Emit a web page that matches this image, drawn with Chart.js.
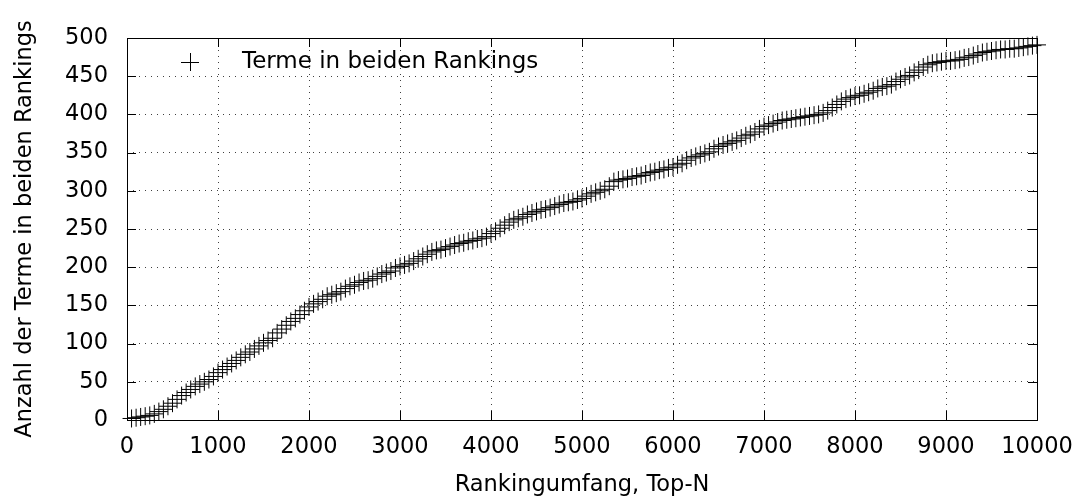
<!DOCTYPE html>
<html>
<head>
<meta charset="utf-8">
<script src="https://cdn.jsdelivr.net/npm/chart.js@4/dist/chart.umd.min.js"></script>
<style>
  html, body { margin: 0; padding: 0; background: #fff; }
  canvas { display: block; }
</style>
</head>
<body>
<canvas id="overlap" width="1080" height="501"></canvas>
<script>
// ---------- Data ----------
const topN = [
  50, 100, 150, 200, 250, 300, 350, 400, 450, 500, 550, 600, 650, 700, 750, 800, 850, 900, 950, 1000,
  1050, 1100, 1150, 1200, 1250, 1300, 1350, 1400, 1450, 1500, 1550, 1600, 1650, 1700, 1750, 1800, 1850, 1900, 1950, 2000,
  2050, 2100, 2150, 2200, 2250, 2300, 2350, 2400, 2450, 2500, 2550, 2600, 2650, 2700, 2750, 2800, 2850, 2900, 2950, 3000,
  3050, 3100, 3150, 3200, 3250, 3300, 3350, 3400, 3450, 3500, 3550, 3600, 3650, 3700, 3750, 3800, 3850, 3900, 3950, 4000,
  4050, 4100, 4150, 4200, 4250, 4300, 4350, 4400, 4450, 4500, 4550, 4600, 4650, 4700, 4750, 4800, 4850, 4900, 4950, 5000,
  5050, 5100, 5150, 5200, 5250, 5300, 5350, 5400, 5450, 5500, 5550, 5600, 5650, 5700, 5750, 5800, 5850, 5900, 5950, 6000,
  6050, 6100, 6150, 6200, 6250, 6300, 6350, 6400, 6450, 6500, 6550, 6600, 6650, 6700, 6750, 6800, 6850, 6900, 6950, 7000,
  7050, 7100, 7150, 7200, 7250, 7300, 7350, 7400, 7450, 7500, 7550, 7600, 7650, 7700, 7750, 7800, 7850, 7900, 7950, 8000,
  8050, 8100, 8150, 8200, 8250, 8300, 8350, 8400, 8450, 8500, 8550, 8600, 8650, 8700, 8750, 8800, 8850, 8900, 8950, 9000,
  9050, 9100, 9150, 9200, 9250, 9300, 9350, 9400, 9450, 9500, 9550, 9600, 9650, 9700, 9750, 9800, 9850, 9900, 9950, 10000
];
const termCounts = [
  2, 3, 4, 5, 6, 8, 11, 14, 18, 22, 27, 32, 36, 40, 44, 47, 50, 53, 57, 62,
  66, 70, 74, 78, 82, 86, 89, 93, 97, 101, 104, 107, 114, 119, 124, 129, 133, 138, 143, 148,
  152, 155, 158, 162, 164, 166, 168, 172, 175, 177, 180, 182, 183, 185, 188, 191, 193, 195, 199, 201,
  203, 205, 208, 211, 214, 217, 220, 222, 223, 225, 227, 229, 231, 232, 234, 235, 237, 238, 240, 244,
  247, 251, 255, 259, 262, 264, 266, 269, 271, 273, 275, 276, 278, 280, 282, 284, 285, 286, 288, 290,
  293, 296, 298, 300, 302, 306, 312, 314, 315, 316, 318, 319, 320, 322, 324, 325, 327, 328, 330, 331,
  334, 336, 340, 343, 345, 347, 349, 351, 355, 358, 360, 362, 364, 366, 369, 372, 374, 377, 381, 384,
  386, 388, 390, 392, 393, 394, 395, 396, 397, 398, 399, 400, 402, 405, 409, 413, 417, 420, 422, 424,
  425, 427, 429, 431, 434, 436, 437, 439, 443, 446, 449, 451, 455, 458, 462, 465, 467, 468, 469, 470,
  470, 471, 472, 474, 475, 477, 479, 481, 482, 483, 484, 485, 485, 486, 486, 487, 488, 489, 490, 491
];
const seriesLabel = 'Terme in beiden Rankings';
const xTitle = 'Rankingumfang, Top-N';
const yTitle = 'Anzahl der Terme in beiden Rankings';
const xRange = [0, 10000];
const yRange = [0, 500];

// ---------- Style ----------
const FONT = 'DejaVu Sans';
const FONT_SIZE = 22.5;
const TICK_LEN = 9;
Chart.defaults.font.family = FONT;
Chart.defaults.font.size = FONT_SIZE;
Chart.defaults.color = '#000';

// gnuplot-like frame: solid border, inward tick marks on all four sides, legend top-left
const framePlugin = {
  id: 'frame',
  beforeDatasetsDraw(chart) {
    const { ctx, chartArea: a, scales: { x, y } } = chart;
    ctx.save();
    ctx.strokeStyle = '#000';
    ctx.lineWidth = 1;
    ctx.beginPath();
    x.ticks.forEach((t) => {
      const px = Math.round(x.getPixelForValue(t.value)) + 0.5;
      ctx.moveTo(px, a.bottom); ctx.lineTo(px, a.bottom - TICK_LEN);
      ctx.moveTo(px, a.top); ctx.lineTo(px, a.top + TICK_LEN);
    });
    y.ticks.forEach((t) => {
      const py = Math.round(y.getPixelForValue(t.value)) + 0.5;
      ctx.moveTo(a.left, py); ctx.lineTo(a.left + TICK_LEN, py);
      ctx.moveTo(a.right, py); ctx.lineTo(a.right - TICK_LEN, py);
    });
    ctx.stroke();
    ctx.strokeRect(Math.round(a.left) + 0.5, Math.round(a.top) + 0.5,
      Math.round(a.right - a.left), Math.round(a.bottom - a.top));
    ctx.restore();
  },
  afterDraw(chart) {
    const { ctx, chartArea: a } = chart;
    const cx = a.left + 63, cy = a.top + 24;
    ctx.save();
    ctx.strokeStyle = '#000';
    ctx.lineWidth = 1;
    ctx.beginPath();
    ctx.moveTo(cx - 9, cy + 0.5); ctx.lineTo(cx + 9, cy + 0.5);
    ctx.moveTo(cx + 0.5, cy - 9); ctx.lineTo(cx + 0.5, cy + 9);
    ctx.stroke();
    ctx.font = '23px "' + FONT + '"';
    ctx.fillStyle = '#000';
    ctx.textAlign = 'left';
    ctx.textBaseline = 'middle';
    ctx.fillText(seriesLabel, a.left + 115, cy);
    ctx.restore();
  },
};

const gridStyle = {
  color: 'rgba(0,0,0,0.75)',
  lineWidth: 1,
  drawTicks: false,
};

new Chart(document.getElementById('overlap'), {
  type: 'scatter',
  data: {
    datasets: [
      {
        label: seriesLabel,
        data: topN.map((n, i) => ({ x: n, y: termCounts[i] })),
        pointStyle: 'cross',
        pointRadius: 9,
        pointBorderWidth: 1,
        borderColor: '#000',
        backgroundColor: '#000',
        showLine: false,
        clip: false,
      },
    ],
  },
  options: {
    responsive: false,
    animation: false,
    events: [],
    layout: { padding: { left: 0, right: 43, top: 38, bottom: 0 } },
    plugins: { legend: { display: false }, tooltip: { enabled: false } },
    scales: {
      x: {
        type: 'linear',
        min: xRange[0],
        max: xRange[1],
        grid: gridStyle,
        border: { display: false, dash: [1, 5] },
        ticks: {
          stepSize: 1000, padding: 14, maxRotation: 0, autoSkip: false,
          callback: (v) => String(v),
        },
        title: { display: true, text: xTitle, padding: { top: 0, bottom: 2.5 } },
        afterFit: (s) => { s.height = 81; s.paddingLeft = 0; s.paddingRight = 0; },
      },
      y: {
        min: yRange[0],
        max: yRange[1],
        grid: gridStyle,
        border: { display: false, dash: [1, 5] },
        ticks: { stepSize: 50, padding: 19, callback: (v) => String(v) },
        title: { display: true, text: yTitle, padding: { top: 11.5, bottom: 0 } },
        afterFit: (s) => { s.width = 127; s.paddingTop = 0; s.paddingBottom = 0; },
      },
    },
  },
  plugins: [framePlugin],
});
</script>
</body>
</html>
